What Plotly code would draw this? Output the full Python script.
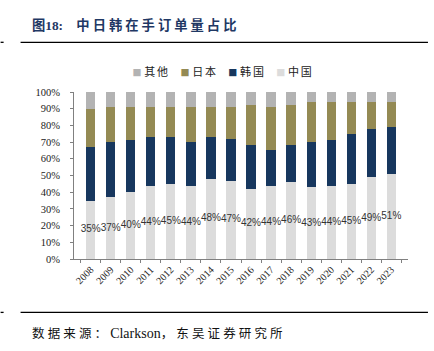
import plotly.graph_objects as go

years = ["2008", "2009", "2010", "2011", "2012", "2013", "2014", "2015",
         "2016", "2017", "2018", "2019", "2020", "2021", "2022", "2023"]
china = [35, 37, 40, 44, 45, 44, 48, 47, 42, 44, 46, 43, 44, 45, 49, 51]
korea = [32, 33, 31, 29, 28, 26, 25, 25, 26, 21, 22, 27, 27, 30, 29, 28]
japan = [23, 21, 20, 18, 18, 21, 18, 19, 24, 26, 24, 24, 23, 19, 16, 15]
other = [10, 9, 9, 9, 9, 9, 9, 9, 8, 9, 8, 6, 6, 6, 6, 6]
china_labels = [f"{v}%" for v in china]

series = [("中国", china, "#dcdcdc"), ("韩国", korea, "#17375e"),
          ("日本", japan, "#948a54"), ("其他", other, "#b3b3b3")]

W, H = 434, 351
L, R, T, B = 73.5, 408, 92.3, 259
SP4 = "\u2005"
SP6 = "\u2006"


def px(x):
    return (x - L) / (R - L)


def py(y):
    return (B - y) / (B - T)


fig = go.Figure()
for name, vals, col in series:
    fig.add_trace(go.Bar(x=years, y=vals, name=name, marker_color=col,
                         marker_line_width=0, showlegend=False))

# legend entries: coloured square glyph + spaced name, one legend per entry
legend_names = ["legend4", "legend3", "legend2", "legend"]
legend_layout = {}
for i, (name, vals, col) in enumerate(series):
    label = (f"<span style='color:{col};font-size:9px'>■</span>{SP4}"
             + SP6.join(list(name)))
    lg = legend_names[i]
    fig.add_trace(go.Scatter(x=[None], y=[None], mode="markers", name=label,
                             legend=lg,
                             marker=dict(symbol="square", size=0.1, color="rgba(0,0,0,0)")))
    slot = 3 - i
    legend_layout[lg] = dict(orientation="h", x=px(92 + 48 * slot), y=py(72),
                             xanchor="left", yanchor="middle", bgcolor="rgba(0,0,0,0)",
                             font=dict(family="Noto Sans CJK SC", size=11, color="#222222"),
                             itemwidth=30)

fig.add_trace(go.Scatter(x=years, y=[v / 2 for v in china], mode="text",
                         text=china_labels, showlegend=False,
                         textfont=dict(family="Liberation Sans", size=10, color="#333333")))

shapes = []
for yy in (42.7, 312.3):
    shapes.append(dict(type="line", xref="paper", yref="paper",
                       x0=px(20), x1=px(428), y0=py(yy), y1=py(yy),
                       line=dict(color="#000000", width=1.3)))
    shapes.append(dict(type="line", xref="paper", yref="paper",
                       x0=px(0), x1=px(3), y0=py(yy), y1=py(yy),
                       line=dict(color="#000000", width=1.3)))

title_txt = ("<b>图<span style='font-family:Liberation Serif'>18:</span>"
             + "\u2002\u2002" + " ".join(list("中日韩在手订单量占比")) + "</b>")
src_txt = (SP4.join(list("数据来源")) + SP4 + "：" + SP4
           + "<span style='font-family:Liberation Serif;font-size:14px'>Clarkson</span>"
           + "，" + SP4 + SP4.join(list("东吴证券研究所")))

annotations = [
    dict(xref="paper", yref="paper", x=px(29), y=py(25), xanchor="left", yanchor="middle",
         showarrow=False, text=title_txt,
         font=dict(family="Noto Sans CJK SC", size=13.3, color="#1f3864")),
    dict(xref="paper", yref="paper", x=px(29), y=py(332), xanchor="left", yanchor="middle",
         showarrow=False, text=src_txt,
         font=dict(family="Noto Sans CJK SC", size=12.5, color="#111111")),
]

fig.update_layout(
    width=W, height=H,
    margin=dict(l=L, r=W - R, t=T, b=H - B, pad=0),
    paper_bgcolor="white", plot_bgcolor="white",
    barmode="stack", bargap=0.54,
    font=dict(family="Liberation Serif", size=10, color="#222222"),
    shapes=shapes, annotations=annotations,
    **legend_layout,
)

fig.update_xaxes(type="category", showline=True, linecolor="#808080", linewidth=1,
                 ticks="outside", tickson="boundaries", ticklen=3, tickcolor="#808080",
                 tickangle=-45, tickfont=dict(family="Liberation Serif", size=10),
                 showgrid=False, zeroline=False, fixedrange=True)
fig.update_yaxes(range=[0, 100], dtick=10, ticksuffix="%", showline=True,
                 linecolor="#808080", linewidth=1, ticks="outside", ticklen=3,
                 tickcolor="#808080", showgrid=False, zeroline=False,
                 tickfont=dict(family="Liberation Serif", size=10.5),
                 ticklabelstandoff=8)

fig.write_html("out.html")
